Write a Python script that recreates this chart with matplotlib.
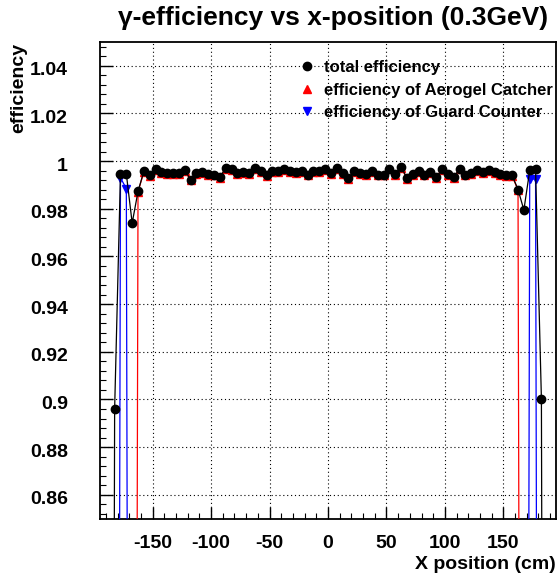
import matplotlib
matplotlib.use('Agg')
import matplotlib.pyplot as plt
from matplotlib.lines import Line2D
from matplotlib.ticker import MultipleLocator
from matplotlib.transforms import ScaledTranslation

plt.rcParams['font.family'] = ['Liberation Sans', 'DejaVu Sans']
plt.rcParams['font.weight'] = 'bold'

# bin centres (cm)
x_pos = [-192.5, -187.5, -182.5, -177.5, -172.5, -167.5, -162.5, -157.5, -152.5, -147.5,
         -142.5, -137.5, -132.5, -127.5, -122.5, -117.5, -112.5, -107.5, -102.5, -97.5,
         -92.5, -87.5, -82.5, -77.5, -72.5, -67.5, -62.5, -57.5, -52.5, -47.5,
         -42.5, -37.5, -32.5, -27.5, -22.5, -17.5, -12.5, -7.5, -2.5,
         2.5, 7.5, 12.5, 17.5, 22.5, 27.5, 32.5, 37.5, 42.5, 47.5,
         52.5, 57.5, 62.5, 67.5, 72.5, 77.5, 82.5, 87.5, 92.5, 97.5,
         102.5, 107.5, 112.5, 117.5, 122.5, 127.5, 132.5, 137.5, 142.5, 147.5,
         152.5, 157.5, 162.5, 167.5, 172.5, 177.5, 182.5, 187.5, 192.5]

total_eff = [0, 0, 0.896, 0.9947, 0.9947, 0.974, 0.9873, 0.9958, 0.9940, 0.9965,
             0.9954, 0.9950, 0.9950, 0.9950, 0.9962, 0.9922, 0.9950, 0.9955, 0.9945, 0.9944,
             0.9932, 0.9972, 0.9965, 0.9949, 0.9954, 0.9949, 0.9970, 0.9958, 0.9940, 0.9958,
             0.9958, 0.9965, 0.9957, 0.9954, 0.9958, 0.9943, 0.9958, 0.9959, 0.9965,
             0.9951, 0.9972, 0.9951, 0.9928, 0.9958, 0.9951, 0.9947, 0.9957, 0.9943, 0.9943,
             0.9968, 0.9947, 0.9975, 0.9930, 0.9947, 0.9958, 0.9943, 0.9954, 0.9932, 0.9965,
             0.9947, 0.9932, 0.9968, 0.9943, 0.9951, 0.9961, 0.9954, 0.9961, 0.9954, 0.9947,
             0.9940, 0.9940, 0.9881, 0.9795, 0.9961, 0.9965, 0.9002, 0, 0]

aerogel_eff = [0, 0, 0, 0, 0, 0, 0.9871, 0.9955, 0.9937, 0.9962,
               0.9951, 0.9947, 0.9947, 0.9947, 0.9959, 0.9919, 0.9947, 0.9952, 0.9942, 0.9941,
               0.9929, 0.9969, 0.9962, 0.9946, 0.9951, 0.9946, 0.9967, 0.9955, 0.9937, 0.9955,
               0.9955, 0.9962, 0.9954, 0.9951, 0.9955, 0.9940, 0.9955, 0.9956, 0.9962,
               0.9948, 0.9969, 0.9948, 0.9925, 0.9955, 0.9948, 0.9944, 0.9954, 0.9940, 0.9940,
               0.9965, 0.9944, 0.9972, 0.9927, 0.9944, 0.9955, 0.9940, 0.9951, 0.9929, 0.9962,
               0.9944, 0.9929, 0.9965, 0.9940, 0.9948, 0.9958, 0.9951, 0.9958, 0.9951, 0.9944,
               0.9937, 0.9937, 0.9879, 0, 0, 0, 0, 0, 0]

guard_eff = [0, 0, 0, 0.993, 0.9885, 0, 0, 0, 0, 0,
             0, 0, 0, 0, 0, 0, 0, 0, 0, 0,
             0, 0, 0, 0, 0, 0, 0, 0, 0, 0,
             0, 0, 0, 0, 0, 0, 0, 0, 0,
             0, 0, 0, 0, 0, 0, 0, 0, 0, 0,
             0, 0, 0, 0, 0, 0, 0, 0, 0, 0,
             0, 0, 0, 0, 0, 0, 0, 0, 0, 0,
             0, 0, 0, 0, 0.9925, 0.9925, 0, 0, 0]

labels = ['total efficiency', 'efficiency of Aerogel Catcher', 'efficiency of Guard Counter']

fig = plt.figure(figsize=(5.6, 5.77), dpi=100)
ax = fig.add_axes([0.1786, 0.1012, 0.8143, 0.826])

ax.plot(x_pos, aerogel_eff, color='red', lw=0.9, marker='^', ms=6.2, mec='red', mfc='red', zorder=3)
ax.plot(x_pos, guard_eff, color='blue', lw=0.9, marker='v', ms=6.2, mec='blue', mfc='blue', zorder=4)
ax.plot(x_pos, total_eff, color='black', lw=0.9, marker='o', ms=6, zorder=5)

ax.set_xlim(-195, 195)
ax.set_ylim(0.85, 1.05)
ax.xaxis.set_minor_locator(MultipleLocator(10))
ax.yaxis.set_minor_locator(MultipleLocator(0.004))
ax.set_xticks([-150, -100, -50, 0, 50, 100, 150])
ax.set_xticklabels(['-150', '-100', '-50', '0', '50', '100', '150'])
yt = [0.86, 0.88, 0.9, 0.92, 0.94, 0.96, 0.98, 1.0, 1.02, 1.04]
ax.set_yticks(yt)
ax.set_yticklabels(['0.86', '0.88', '0.9', '0.92', '0.94', '0.96', '0.98', '1', '1.02', '1.04'])

ax.grid(True, which='major', color='black', lw=0.8, ls=(0, (1, 2.5)))
ax.tick_params(which='both', direction='in', top=False, right=False, labelsize=14)
ax.tick_params(axis='y', which='major', length=9, width=1, pad=23)
ax.tick_params(axis='x', which='major', length=9, width=1, pad=12)
ax.tick_params(which='minor', length=4.5, width=0.8)
for sp in ax.spines.values():
    sp.set_linewidth(1.3)

# ROOT puts the y labels a little below the grid line
shift = ScaledTranslation(0, -3 / 100, fig.dpi_scale_trans)
for lab in ax.get_yticklabels():
    lab.set_transform(lab.get_transform() + shift)

fig.text(0.595, 0.968, u'\u03b3-efficiency vs x-position (0.3GeV)', ha='center', va='center',
         fontsize=19, fontweight='bold')
fig.text(0.993, 0.021, 'X position (cm)', ha='right', va='center', fontsize=14, fontweight='bold')
fig.text(0.033, 0.926, 'efficiency', ha='center', va='top', rotation=90, fontsize=14, fontweight='bold')

handles = [Line2D([], [], ls='none', marker='o', color='black', ms=6),
           Line2D([], [], ls='none', marker='^', color='red', ms=6),
           Line2D([], [], ls='none', marker='v', color='blue', ms=6)]
fig.legend(handles, labels, loc='upper left', bbox_to_anchor=(0.534, 0.896), frameon=False,
           fontsize=12, handlelength=1.0, handletextpad=0.5, labelspacing=0.45, borderpad=0,
           borderaxespad=0)

plt.savefig('out.png', dpi=100)
